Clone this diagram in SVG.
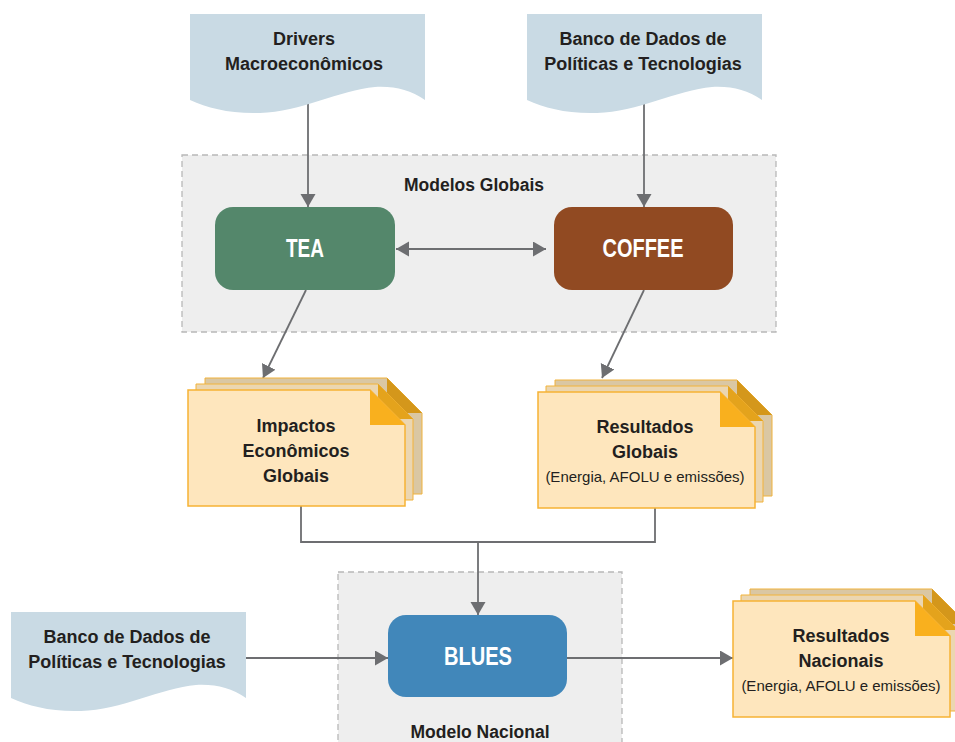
<svg xmlns="http://www.w3.org/2000/svg" xmlns:xlink="http://www.w3.org/1999/xlink" width="955" height="742" viewBox="0 0 955 742">
<style>
  text { font-family: "Liberation Sans", Arial, sans-serif; fill: #231f20; text-anchor: middle; }
  .b { font-weight: bold; font-size: 18px; }
  .t { font-weight: bold; font-size: 17.5px; }
  .s { font-size: 15px; }
  .w { font-weight: bold; font-size: 25px; fill: #ffffff; }
  .wave { fill: #c9dae4; }
  .cont { fill: #eeeeee; stroke: #b8b8b8; stroke-width: 1.3; stroke-dasharray: 6 4; }
  .conn { fill: none; stroke: #6d6e71; stroke-width: 1.8; }
</style>
<defs>
  <marker id="ah" markerUnits="userSpaceOnUse" markerWidth="14" markerHeight="16" refX="13" refY="7.5" orient="auto-start-reverse" viewBox="0 0 14 16">
    <path d="M0,0 L13,7.5 L0,15 Z" fill="#6d6e71"/>
  </marker>
  <path id="wavedoc" d="M0,0 H235 V86 C220,76 205,72 185,73 C150,76 110,98 70,99 C40,100 18,94 0,86 Z"/>
  <g id="stack">
    <path d="M17,-12 H199 L234,23 V104 H17 Z" fill="#dac7a3" stroke="#f0b23c" stroke-width="1"/>
    <path d="M199,-12 L234,23 H199 Z" fill="#d4971b"/>
    <path d="M8,-6 H190 L225,29 V110 H8 Z" fill="#ebd6b1" stroke="#f2b33a" stroke-width="1"/>
    <path d="M190,-6 L225,29 H190 Z" fill="#e4a31c"/>
    <path d="M0,0 H182 L217,35 V116 H0 Z" fill="#fee6bd" stroke="#f6b334" stroke-width="1.5"/>
    <path d="M182,0 L217,35 H182 Z" fill="#f9b01e"/>
  </g>
</defs>

<rect width="955" height="742" fill="#ffffff"/>

<g id="modelos-globais">
  <rect class="cont" x="182" y="155" width="594" height="177"/>
  <text class="t" x="474" y="191">Modelos Globais</text>
</g>
<g id="modelo-nacional">
  <rect class="cont" x="338" y="572" width="284" height="180"/>
  <text class="t" x="480" y="738">Modelo Nacional</text>
</g>

<g id="connectors">
  <line class="conn" x1="308" y1="100" x2="308" y2="207" marker-end="url(#ah)"/>
  <line class="conn" x1="644" y1="100" x2="644" y2="207" marker-end="url(#ah)"/>
  <line class="conn" x1="396" y1="249" x2="546" y2="249" marker-start="url(#ah)" marker-end="url(#ah)"/>
  <line class="conn" x1="306" y1="290" x2="263" y2="378" marker-end="url(#ah)"/>
  <line class="conn" x1="644" y1="290" x2="602" y2="378" marker-end="url(#ah)"/>
  <polyline class="conn" points="301,506 301,542 655,542 655,508"/>
  <line class="conn" x1="478" y1="542" x2="478" y2="615" marker-end="url(#ah)"/>
  <line class="conn" x1="246" y1="658" x2="388" y2="658" marker-end="url(#ah)"/>
  <line class="conn" x1="567" y1="658" x2="733" y2="658" marker-end="url(#ah)"/>
</g>

<g id="drivers">
  <use xlink:href="#wavedoc" href="#wavedoc" class="wave" transform="translate(190,14)"/>
  <text class="b" x="304" y="45">Drivers</text>
  <text class="b" x="304" y="70">Macroeconômicos</text>
</g>
<g id="banco-global">
  <use xlink:href="#wavedoc" href="#wavedoc" class="wave" transform="translate(527,14)"/>
  <text class="b" x="643" y="45">Banco de Dados de</text>
  <text class="b" x="643" y="70">Políticas e Tecnologias</text>
</g>
<g id="banco-nacional">
  <use xlink:href="#wavedoc" href="#wavedoc" class="wave" transform="translate(11,612)"/>
  <text class="b" x="127" y="643">Banco de Dados de</text>
  <text class="b" x="127" y="668">Políticas e Tecnologias</text>
</g>

<g id="tea">
  <rect x="215" y="207" width="180" height="83" rx="18" fill="#54876b"/>
  <text class="w" x="305" y="257" textLength="38" lengthAdjust="spacingAndGlyphs">TEA</text>
</g>
<g id="coffee">
  <rect x="554" y="207" width="179" height="83" rx="18" fill="#914a22"/>
  <text class="w" x="643" y="257" textLength="81" lengthAdjust="spacingAndGlyphs">COFFEE</text>
</g>
<g id="blues">
  <rect x="388" y="615" width="179" height="82" rx="18" fill="#4187ba"/>
  <text class="w" x="478" y="665" textLength="68" lengthAdjust="spacingAndGlyphs">BLUES</text>
</g>

<g id="impactos">
  <use xlink:href="#stack" href="#stack" transform="translate(188,390)"/>
  <text class="b" x="296" y="432">Impactos</text>
  <text class="b" x="296" y="457">Econômicos</text>
  <text class="b" x="296" y="482">Globais</text>
</g>
<g id="resultados-globais">
  <use xlink:href="#stack" href="#stack" transform="translate(538,392)"/>
  <text class="b" x="645" y="433">Resultados</text>
  <text class="b" x="645" y="458">Globais</text>
  <text class="s" x="645" y="482">(Energia, AFOLU e emissões)</text>
</g>
<g id="resultados-nacionais">
  <use xlink:href="#stack" href="#stack" transform="translate(733,601)"/>
  <text class="b" x="841" y="642">Resultados</text>
  <text class="b" x="841" y="667">Nacionais</text>
  <text class="s" x="841" y="691">(Energia, AFOLU e emissões)</text>
</g>
</svg>
